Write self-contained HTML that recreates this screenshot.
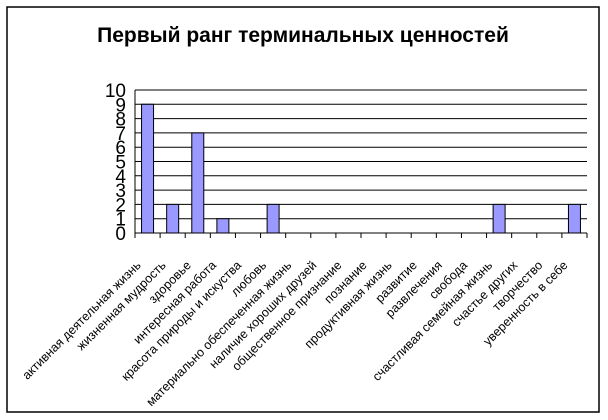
<!DOCTYPE html>
<html><head><meta charset="utf-8">
<style>
html,body{margin:0;padding:0;background:#fff;}
svg{display:block;font-family:"Liberation Sans",Arial,sans-serif;}
</style></head>
<body>
<svg id="chart" width="608" height="420">
<rect x="7" y="7" width="592" height="405" fill="#fff" stroke="#000" stroke-width="1.5"/>
<text x="303" y="42" text-anchor="middle" font-size="21" font-weight="bold">Первый ранг терминальных ценностей</text>
<g id="grid"></g><g id="bars"></g><g id="axes"></g><g id="labels"></g>
</svg>
<script>
const categories=["активная деятельная жизнь","жизненная мудрость","здоровье","интересная работа","красота природы и искуства","любовь","материально обеспеченная жизнь","наличие хороших друзей","общественное признание","познание","продуктивная жизнь","развитие","развлечения","свобода","счастливая семейная жизнь","счастье других","творчество","уверенность в себе"];
const values=[9,2,7,1,0,2,0,0,0,0,0,0,0,0,2,0,0,2];
const yTicks=[0,1,2,3,4,5,6,7,8,9,10];
const NS="http://www.w3.org/2000/svg";
const X0=135,X1=587,Y0=233,Y1=90,YMAX=10;
const step=(X1-X0)/categories.length;
const y=v=>Y0-(v/YMAX)*(Y0-Y1);
const xc=i=>X0+step*(i+0.5);
function mk(tag,attrs,parent){const e=document.createElementNS(NS,tag);for(const k in attrs)e.setAttribute(k,attrs[k]);parent.appendChild(e);return e;}
const grid=document.getElementById('grid'),bars=document.getElementById('bars'),axes=document.getElementById('axes'),labels=document.getElementById('labels');
yTicks.forEach(t=>{
  const l=mk('line',{x1:X0,x2:X1,y1:y(t),y2:y(t),stroke:'#000','stroke-width':1},grid);
  
  
  const tx=mk('text',{x:126,y:y(t)+7,'text-anchor':'end','font-size':19},axes);
  tx.textContent=t;
  
  
});
const ya=mk('line',{x1:X0,x2:X0,y1:Y1,y2:Y0,stroke:'#000','stroke-width':1},axes);


categories.forEach((c,i)=>{
  const tk=mk('line',{x1:X0+step*(i+1),x2:X0+step*(i+1),y1:Y0,y2:Y0+5,stroke:'#000'},axes);
  
  
  if(i===0){const t0=mk('line',{x1:X0,x2:X0,y1:Y0,y2:Y0+5,stroke:'#000'},axes);
    
    }
  const v=values[i];
  if(v>0){
    const b=mk('rect',{x:xc(i)-6,y:y(v),width:12,height:Y0-y(v),fill:'#9999ff',stroke:'#000','stroke-width':1},bars);
    
    
  }
  const ax=xc(i)-6, ay=266;
  const lt=mk('text',{x:ax,y:ay,'text-anchor':'end','font-size':12.5,transform:`rotate(-45 ${ax} ${ay})`},labels);
  lt.textContent=c;
  
  
});
</script>
</body></html>
